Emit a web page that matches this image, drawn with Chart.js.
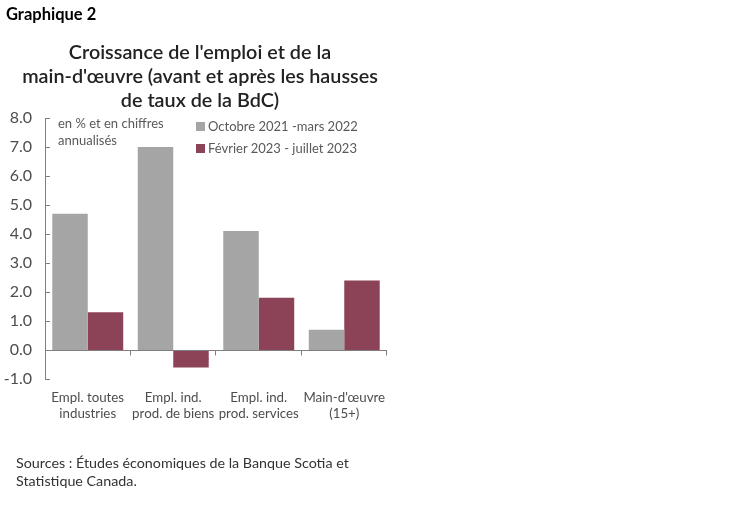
<!DOCTYPE html>
<html><head><meta charset="utf-8">
<script src="https://cdn.jsdelivr.net/npm/chart.js@4.4.0/dist/chart.umd.min.js"></script>
<style>
html,body{margin:0;padding:0;background:#fff;}
#wrap{position:relative;width:750px;height:510px;font-family:Lato,"Open Sans",sans-serif;}
canvas{position:absolute;left:0;top:0;}
.t{position:absolute;white-space:nowrap;}
#g2{left:6px;top:4px;font-size:16.5px;font-weight:bold;color:#000;}
#title{left:0;width:400px;top:39px;text-align:center;font-size:19.8px;line-height:24px;color:#222;font-weight:600;}
#note{left:58px;top:115px;font-size:13px;line-height:17px;color:#595959;}
#leg{left:196px;top:115px;font-size:13px;line-height:22px;color:#595959;}
#leg span.sq{display:inline-block;width:9px;height:9px;margin-right:3px;vertical-align:0px;}
#src{left:16px;top:454px;font-size:14.3px;line-height:18px;color:#333;}
</style></head>
<body><div id="wrap">
<canvas id="c" width="750" height="510"></canvas>
<div class="t" id="g2">Graphique 2</div>
<div class="t" id="title">Croissance de l'emploi et de la<br>main-d'œuvre (avant et après les hausses<br>de taux de la BdC)</div>
<div class="t" id="note">en % et en chiffres<br>annualisés</div>
<div class="t" id="leg"></div>
<div class="t" id="src">Sources : Études économiques de la Banque Scotia et<br>Statistique Canada.</div>
</div>
<script>
const categories = [["Empl. toutes","industries"],["Empl. ind.","prod. de biens"],["Empl. ind.","prod. services"],["Main-d'œuvre","(15+)"]];
const seriesNames = ["Octobre 2021 -mars 2022","Février 2023 - juillet 2023"];
const before = [4.7, 7.0, 4.1, 0.7];
const after = [1.3, -0.6, 1.8, 2.4];
const colors = ["#a5a5a5","#8c4257"];

document.getElementById('leg').innerHTML = seriesNames.map((n,i)=>
  '<div><span class="sq" style="background:'+colors[i]+'"></span>'+n+'</div>').join('');

const axisPlugin = {
  id:'axisPlugin',
  afterDatasetsDraw(chart){
    const ctx=chart.ctx, x=chart.scales.x, y=chart.scales.y;
    ctx.save();
    ctx.strokeStyle='#7f7f7f'; ctx.lineWidth=1;
    const left=chart.chartArea.left, right=chart.chartArea.right;
    const y0=Math.round(y.getPixelForValue(0))+0.5;
    ctx.beginPath(); ctx.moveTo(left,y0); ctx.lineTo(right,y0); ctx.stroke();
    const n=x.ticks.length;
    const w=(x.getPixelForValue(1)-x.getPixelForValue(0));
    for(let i=0;i<n;i++){
      const bx=Math.round(x.getPixelForValue(i)+w/2)-0.5;
      ctx.beginPath(); ctx.moveTo(bx,y0); ctx.lineTo(bx,y0+5); ctx.stroke();
    }
    y.ticks.forEach(t=>{
      const py=Math.round(y.getPixelForValue(t.value))+0.5;
      ctx.beginPath(); ctx.moveTo(left,py); ctx.lineTo(left+5,py); ctx.stroke();
    });
    ctx.restore();
  }
};

new Chart(document.getElementById('c'),{
  type:'bar',
  data:{labels:categories,datasets:[
    {label:seriesNames[0],data:before,backgroundColor:colors[0]},
    {label:seriesNames[1],data:after,backgroundColor:colors[1]}
  ]},
  options:{
    responsive:false,animation:false,
    layout:{padding:{left:0,right:363,top:118,bottom:81}},
    plugins:{legend:{display:false},title:{display:false},tooltip:{enabled:false}},
    datasets:{bar:{categoryPercentage:0.83,barPercentage:1.0}},
    scales:{
      x:{grid:{display:false,drawTicks:false},border:{display:false},
        afterFit(s){s.height=50;},
        ticks:{padding:11,color:'#4d4d4d',font:{family:'Lato',size:13.3},maxRotation:0}},
      y:{min:-1,max:8,grid:{display:false,drawTicks:false},
        border:{display:true,color:'#7f7f7f'},
        afterFit(s){s.width=45;},
        ticks:{stepSize:1,padding:13,color:'#4d4d4d',font:{family:'Lato',size:16},
          callback:v=>v.toFixed(1)}}
    }
  },
  plugins:[axisPlugin]
});
</script>
</body></html>
